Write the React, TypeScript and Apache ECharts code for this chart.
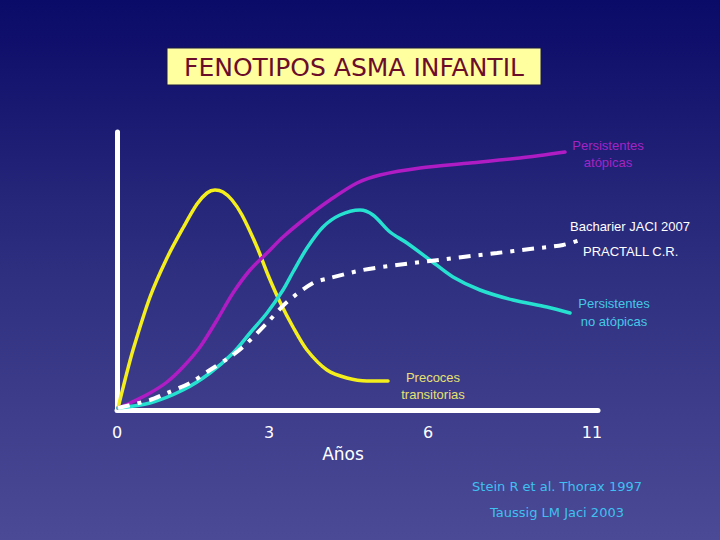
import React, { useEffect, useRef } from "react";
import * as echarts from "echarts";

// x units: position along the age axis, y units: relative prevalence
const xTickPos = [0, 15.2, 31.1, 47.5];
const xTickLabels = ["0", "3", "6", "11"];

const precocesTransitorias: [number, number][] = [
  [0.1, 0.2], [0.8, 3.0], [1.6, 6.0], [3.3, 11.3], [5.0, 15.2], [6.6, 18.2],
  [8.0, 20.6], [9.0, 21.7], [9.8, 22.0], [10.6, 21.8], [11.5, 21.0], [12.5, 19.5],
  [14.0, 16.3], [15.1, 13.5], [16.3, 10.8], [17.6, 8.3], [19.0, 6.0], [21.0, 4.0],
  [23.0, 3.2], [25.0, 2.9], [27.1, 2.9],
];

const persistentesAtopicas: [number, number][] = [
  [0.1, 0.2], [1.3, 0.7], [3.3, 1.7], [5.0, 2.8], [6.6, 4.3], [8.3, 6.3],
  [10.0, 9.0], [11.6, 11.7], [13.3, 14.0], [15.0, 15.7], [16.6, 17.3], [19.0, 19.3],
  [21.3, 21.0], [24.0, 22.7], [26.3, 23.5], [30.3, 24.2], [35.3, 24.7], [40.3, 25.2],
  [44.8, 25.8],
];

const persistentesNoAtopicas: [number, number][] = [
  [0.1, 0.2], [3.3, 0.7], [6.6, 2.0], [9.3, 3.7], [11.6, 5.7], [13.3, 7.7],
  [15.0, 9.7], [16.6, 12.0], [17.6, 13.8], [19.0, 16.2], [20.6, 18.3], [22.3, 19.5],
  [24.3, 20.0], [25.6, 19.5], [27.3, 17.8], [29.0, 16.7], [31.3, 15.0], [33.6, 13.3],
  [36.3, 12.0], [39.6, 11.0], [43.0, 10.3], [45.3, 9.7],
];

const practall: [number, number][] = [
  [0.1, 0.2], [3.3, 1.0], [5.0, 1.7], [7.3, 2.7], [9.3, 4.0], [11.3, 5.3],
  [12.6, 6.3], [15.0, 8.7], [17.0, 10.8], [19.6, 12.7], [21.3, 13.2], [24.6, 14.0],
  [28.0, 14.5], [31.3, 14.9], [34.6, 15.3], [38.0, 15.7], [41.3, 16.1], [44.6, 16.5],
  [46.3, 17.0],
];

const FONT = "Liberation Sans";

export default function App() {
  const ref = useRef<HTMLDivElement>(null);

  useEffect(() => {
    if (!ref.current) return;
    const chart = echarts.init(ref.current, null, { renderer: "svg" });

    const txt = (
      x: number, y: number, text: string, fill: string,
      align: string = "center", size = 13, font = FONT
    ) => ({
      type: "text",
      x, y,
      style: {
        text, fill, align, verticalAlign: "middle",
        fontSize: size, fontFamily: font,
      },
      silent: true,
    });

    const line = (name: string, data: [number, number][], color: string, width: number, type: any = "solid") => ({
      type: "line", name, data,
      smooth: 0.3, showSymbol: false, symbol: "none",
      lineStyle: { color, width, type, cap: "round" },
    });

    chart.setOption({
      animation: false,
      backgroundColor: {
        type: "linear", x: 0, y: 0, x2: 0, y2: 1,
        colorStops: [
          { offset: 0, color: "#0a0a68" },
          { offset: 0.5, color: "#2f2f80" },
          { offset: 1, color: "#4a4a96" },
        ],
      },
      grid: { left: 117, right: 122, top: 132, bottom: 130 },
      xAxis: {
        type: "value",
        min: 0,
        max: 48.1,
        splitLine: { show: false },
        axisLine: { show: true, lineStyle: { color: "#ffffff", width: 5 } },
        axisTick: { show: false },
        axisLabel: {
          customValues: xTickPos,
          color: "#ffffff",
          fontSize: 16,
          fontFamily: "DejaVu Sans",
          margin: 14,
          formatter: (v: number) => {
            const i = xTickPos.findIndex((p) => Math.abs(p - v) < 1e-6);
            return i >= 0 ? xTickLabels[i] : "";
          },
        },
      },
      yAxis: {
        type: "value",
        min: 0,
        max: 27.8,
        splitLine: { show: false },
        axisLine: { show: true, lineStyle: { color: "#ffffff", width: 5 } },
        axisTick: { show: false },
        axisLabel: { show: false },
      },
      series: [
        line("Precoces transitorias", precocesTransitorias, "#f4ef1c", 3.5),
        line("Persistentes atópicas", persistentesAtopicas, "#b01cc4", 3.5),
        line("Persistentes no atópicas", persistentesNoAtopicas, "#26e0d0", 3.5),
        {
          type: "line", name: "PRACTALL C.R.", data: practall,
          smooth: 0.3, showSymbol: false, symbol: "none",
          lineStyle: { color: "#ffffff", width: 4, type: [12, 8, 4, 8] },
        },
      ],
      graphic: [
        {
          type: "rect",
          shape: { x: 167, y: 48, width: 374, height: 37 },
          style: { fill: "#ffffa0", stroke: "#1a1a40", lineWidth: 1 },
          silent: true,
        },
        txt(354, 67, "FENOTIPOS ASMA INFANTIL", "#6b0d2a", "center", 25, "DejaVu Sans"),
        txt(608, 145, "Persistentes", "#a424c4"),
        txt(608, 162, "atópicas", "#a424c4"),
        txt(570, 226, "Bacharier JACI 2007", "#ffffff", "left"),
        txt(583, 251, "PRACTALL C.R.", "#ffffff", "left"),
        txt(614, 303, "Persistentes", "#44c8e6"),
        txt(614, 321, "no atópicas", "#44c8e6"),
        txt(433, 377, "Precoces", "#e8e070"),
        txt(433, 394, "transitorias", "#e8e070"),
        txt(343, 454, "Años", "#ffffff", "center", 17, "DejaVu Sans"),
        txt(557, 486, "Stein R et al. Thorax 1997", "#40c0f0", "center", 13, "DejaVu Sans"),
        txt(557, 512, "Taussig LM Jaci 2003", "#40c0f0", "center", 13, "DejaVu Sans"),
      ],
    });

    return () => chart.dispose();
  }, []);

  return (
    <div
      ref={ref}
      style={{ position: "fixed", left: 0, top: 0, width: 720, height: 540 }}
    />
  );
}
